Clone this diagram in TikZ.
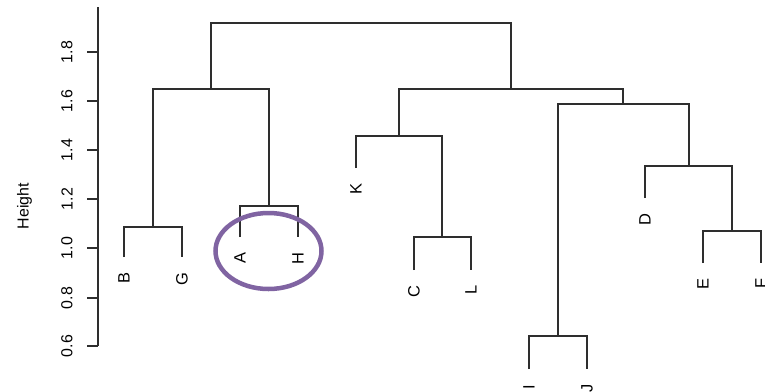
\documentclass[tikz,border=0pt]{standalone}
\usepackage{fontspec}
\usetikzlibrary{shapes.geometric}
\setmainfont{Liberation Sans}
\definecolor{branch}{HTML}{2E2E2E}
\definecolor{ring}{HTML}{8064A2}
\begin{document}
\begin{tikzpicture}[x=1bp,y=-1bp,
  tree/.style={draw=branch,line width=2bp},
  leaflabel/.style={rotate=90,anchor=east,inner sep=0pt,font=\fontsize{16.5}{19}\selectfont},
  ticklabel/.style={rotate=90,anchor=center,inner sep=0pt,font=\fontsize{16}{19}\selectfont},
  axisline/.style={draw=branch,line width=2bp},
  ringstyle/.style={draw=ring,line width=4.5bp}]
\useasboundingbox (0,0) rectangle (765,391);

% height axis
\coordinate (axtop) at (98,7);
\coordinate (axbot) at (98,346);
\draw[axisline] (axtop) -- (axbot);
\foreach \i/\h/\y in {1/0.6/346,2/0.8/298,3/1.0/248,4/1.2/199,5/1.4/150,6/1.6/101,7/1.8/52}{
  \coordinate (tk\i) at (98,\y);
  \coordinate (tl\i) at (87,\y);
  \draw[axisline] (tk\i) -- (tl\i);
  \node[ticklabel] (lab\i) at (67,\y) {\h};
}
\node[ticklabel] (ylabel) at (24.5,206) {Height};

% leaf tips and labels
\foreach \n/\x/\t in {B/124/257,G/182/257,A/240/237,H/298/237,
                      K/356/168,C/414/270,L/471/270,I/529/369,
                      J/587/369,D/645/198,E/703/263,F/761/263}{
  \coordinate (t\n) at (\x,\t);
  \node[leaflabel] (\n) at (\x,\t+15.5) {\n};
}

% merge points
\coordinate (mBG) at (153,227);
\coordinate (mAH) at (269,206);
\coordinate (mLeft) at (211,89);
\coordinate (mCL) at (442,237);
\coordinate (mKCL) at (399,136);
\coordinate (mIJ) at (558,336);
\coordinate (mEF) at (732,231);
\coordinate (mDEF) at (689,166);
\coordinate (mIJDEF) at (623,104);
\coordinate (mRight) at (511,89);
\coordinate (mRoot) at (361,23);

% branches
\draw[tree] (tB) |- (mBG) -| (tG);
\draw[tree] (tA) |- (mAH) -| (tH);
\draw[tree] (mBG) |- (mLeft) -| (mAH);
\draw[tree] (tC) |- (mCL) -| (tL);
\draw[tree] (tK) |- (mKCL) -| (mCL);
\draw[tree] (tI) |- (mIJ) -| (tJ);
\draw[tree] (tE) |- (mEF) -| (tF);
\draw[tree] (tD) |- (mDEF) -| (mEF);
\draw[tree] (mIJ) |- (mIJDEF) -| (mDEF);
\draw[tree] (mKCL) |- (mRight) -| (mIJDEF);
\draw[tree] (mLeft) |- (mRoot) -| (mRight);

% highlight ring round A and H
\node[ringstyle,ellipse,minimum width=106bp,minimum height=76bp,inner sep=0pt] (hl) at (268.5,251) {};
\end{tikzpicture}
\end{document}
